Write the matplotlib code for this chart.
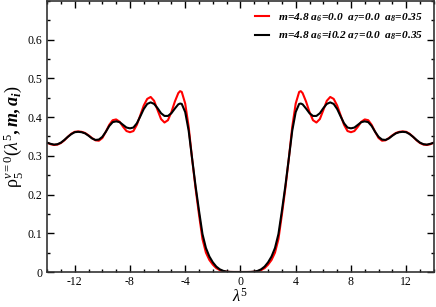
import numpy as np
import matplotlib
matplotlib.use("Agg")
import matplotlib.pyplot as plt
from matplotlib.ticker import MultipleLocator

plt.rcParams['font.family'] = ['Liberation Serif', 'DejaVu Serif']
plt.rcParams['axes.unicode_minus'] = False
plt.rcParams['mathtext.fontset'] = 'custom'
plt.rcParams['mathtext.rm'] = 'Liberation Serif'
plt.rcParams['mathtext.it'] = 'Liberation Serif:italic'
plt.rcParams['mathtext.bf'] = 'Liberation Serif:bold:italic'

# right half of the curves (lambda >= 0); curves are symmetric
lam_half = [0.0, 0.25, 0.5, 0.75, 1.0, 1.25, 1.5, 1.75, 2.0, 2.25, 2.5, 2.75,
            3.0, 3.25, 3.5, 3.75, 4.0, 4.25, 4.37, 4.5, 4.75, 5.0, 5.25, 5.5,
            5.75, 6.0, 6.25, 6.5, 6.75, 7.0, 7.25, 7.5, 7.75, 8.0, 8.25, 8.5,
            8.75, 9.0, 9.25, 9.5, 9.75, 10.0, 10.25, 10.5, 10.75, 11.0, 11.25,
            11.5, 11.75, 12.0, 12.25, 12.5, 12.75, 13.0, 13.25, 13.5, 13.75, 14.0]

rho_real = [0.0, 0.0, 0.0, 0.0001, 0.0005, 0.002, 0.005, 0.010, 0.019, 0.031,
            0.050, 0.085, 0.148, 0.216, 0.292, 0.375, 0.435, 0.465, 0.467,
            0.462, 0.440, 0.413, 0.392, 0.386, 0.395, 0.418, 0.442, 0.452,
            0.447, 0.430, 0.405, 0.380, 0.364, 0.361, 0.364, 0.375, 0.388,
            0.394, 0.392, 0.380, 0.362, 0.346, 0.339, 0.340, 0.346, 0.353,
            0.359, 0.362, 0.363, 0.362, 0.357, 0.349, 0.340, 0.333, 0.329,
            0.328, 0.330, 0.334]

rho_imag = [0.0, 0.0, 0.0, 0.0002, 0.001, 0.003, 0.007, 0.014, 0.025, 0.040,
            0.062, 0.098, 0.158, 0.222, 0.293, 0.365, 0.413, 0.434, 0.435,
            0.433, 0.422, 0.410, 0.403, 0.403, 0.410, 0.423, 0.434, 0.438,
            0.434, 0.421, 0.402, 0.384, 0.373, 0.371, 0.373, 0.380, 0.387,
            0.389, 0.387, 0.377, 0.362, 0.349, 0.342, 0.341, 0.345, 0.352,
            0.358, 0.361, 0.362, 0.361, 0.356, 0.349, 0.341, 0.334, 0.330,
            0.329, 0.331, 0.334]

label_real = r'$\mathbf{m\!=\!4.8\ a_6\!=\!0.0\ \ a_7\!=\!0.0\ \ a_8\!=\!0.35}$'
label_imag = r'$\mathbf{m\!=\!4.8\ a_6\!=\!i0.2\ a_7\!=\!0.0\ \ a_8\!=\!0.35}$'


def mirror(x, y):
    x = np.asarray(x)
    y = np.asarray(y)
    return np.concatenate([-x[:0:-1], x]), np.concatenate([y[:0:-1], y])


fig = plt.figure(figsize=(4.36, 3.07), dpi=100)
ax = fig.add_axes([0.108, 0.114, 0.887, 0.883])

x, y = mirror(lam_half, rho_real)
ax.plot(x, y, color='red', lw=1.5, label=label_real)
x, y = mirror(lam_half, rho_imag)
ax.plot(x, y, color='black', lw=1.5, label=label_imag)

ax.set_xlim(-14, 14)
ax.set_ylim(0, 0.7)
ax.xaxis.set_major_locator(MultipleLocator(4))
ax.xaxis.set_minor_locator(MultipleLocator(1))
ax.set_yticks([0, 0.1, 0.2, 0.3, 0.4, 0.5, 0.6])
ax.set_yticklabels(['0', '0.1', '0.2', '0.3', '0.4', '0.5', '0.6'])
ax.yaxis.set_minor_locator(MultipleLocator(0.05))
ax.tick_params(which='both', direction='in', top=True, right=True,
               labelsize=8.5, width=1)
ax.tick_params(axis='x', which='major', pad=3)
ax.tick_params(which='major', length=5)
ax.tick_params(which='minor', length=2.5)
for s in ax.spines.values():
    s.set_linewidth(1.2)
    s.set_color('#333333')

ax.set_xlabel(r'$\lambda^5$', fontsize=12, labelpad=0)
ax.set_ylabel(r'$\mathrm{\rho}_5^{\nu=0}(\lambda^5\mathbf{,m,a_i})$', fontsize=13,
              labelpad=2)

ax.legend(loc='upper right', frameon=False, fontsize=8.2, handlelength=1.2,
          handletextpad=0.8, borderaxespad=0.5, labelspacing=0.55)

fig.savefig('out.png', dpi=100)
